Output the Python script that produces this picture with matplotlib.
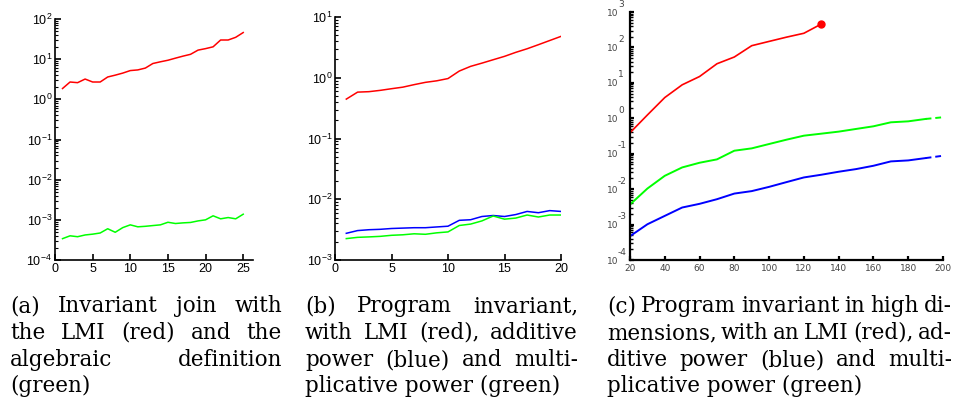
import numpy as np
import matplotlib
matplotlib.use("Agg")
import matplotlib.pyplot as plt
from matplotlib.ticker import FixedLocator, LogLocator, NullFormatter, FuncFormatter

plt.rcParams['mathtext.default'] = 'regular'

# %%
# Data

# (a) invariant join
a_x = np.arange(1, 26)
a_lmi = [1.86, 2.7, 2.6, 3.2, 2.7, 2.7, 3.6, 4.0, 4.5, 5.2, 5.4, 6.0, 7.8, 8.6, 9.4,
         10.6, 11.9, 13.2, 16.8, 18.3, 20.3, 30, 30, 35, 46]
a_alg = [3.4e-4, 4.0e-4, 3.8e-4, 4.2e-4, 4.4e-4, 4.7e-4, 6.0e-4, 4.9e-4, 6.4e-4, 7.5e-4,
         6.7e-4, 6.9e-4, 7.2e-4, 7.5e-4, 8.7e-4, 8.1e-4, 8.4e-4, 8.6e-4, 9.4e-4, 1.0e-3,
         1.26e-3, 1.06e-3, 1.14e-3, 1.06e-3, 1.38e-3]

# (b) program invariant
b_x = np.arange(1, 21)
b_lmi = [0.445, 0.58, 0.59, 0.62, 0.66, 0.70, 0.77, 0.84, 0.89, 0.97,
         1.29, 1.54, 1.74, 1.98, 2.25, 2.62, 3.0, 3.5, 4.1, 4.8]
b_add = [2.75e-3, 3.05e-3, 3.15e-3, 3.2e-3, 3.3e-3, 3.35e-3, 3.4e-3, 3.4e-3, 3.5e-3, 3.6e-3,
         4.5e-3, 4.6e-3, 5.2e-3, 5.4e-3, 5.2e-3, 5.6e-3, 6.3e-3, 6.0e-3, 6.5e-3, 6.3e-3]
b_mul = [2.25e-3, 2.36e-3, 2.4e-3, 2.45e-3, 2.55e-3, 2.6e-3, 2.7e-3, 2.65e-3, 2.8e-3, 2.9e-3,
         3.7e-3, 3.9e-3, 4.4e-3, 5.3e-3, 4.7e-3, 4.9e-3, 5.5e-3, 5.1e-3, 5.5e-3, 5.5e-3]

# (c) high dimensions
c_x = np.arange(20, 201, 10)
c_lmi = [0.39, 1.24, 3.85, 8.8, 15.1, 34.6, 53.7, 112, 148, 195, 251, 457]
c_add = [4.7e-4, 1.02e-3, 1.76e-3, 3.03e-3, 3.85e-3, 5.2e-3, 7.5e-3, 8.8e-3, 0.0116, 0.0158,
         0.0214, 0.0255, 0.031, 0.0368, 0.0457, 0.0607, 0.0647, 0.0753, 0.0877]
c_mul = [3.68e-3, 0.0104, 0.0238, 0.041, 0.0556, 0.0692, 0.1216, 0.1416, 0.188, 0.249,
         0.323, 0.368, 0.42, 0.5, 0.594, 0.77, 0.82, 0.957, 1.07]

captions = [
    ["(a) Invariant join with", "the LMI (red) and the", "algebraic definition", "(green)"],
    ["(b) Program invariant,", "with LMI (red), additive", "power (blue) and multi-",
     "plicative power (green)"],
    ["(c) Program invariant in high di-", "mensions, with an LMI (red), ad-",
     "ditive power (blue) and multi-", "plicative power (green)"],
]

# %%
W, H = 956, 404
fig = plt.figure(figsize=(W / 100, H / 100), dpi=100)


def px_axes(left, right, top, bottom):
    return fig.add_axes([left / W, 1 - bottom / H, (right - left) / W, (bottom - top) / H])


def style_ax(ax, lw=1.0):
    for s in ['top', 'right']:
        ax.spines[s].set_visible(False)
    for s in ['left', 'bottom']:
        ax.spines[s].set_linewidth(lw)
    ax.set_yscale('log')
    ax.yaxis.set_minor_locator(LogLocator(base=10, subs=np.arange(2, 10)))
    ax.yaxis.set_minor_formatter(NullFormatter())
    ax.tick_params(which='major', direction='in', length=4, width=lw)
    ax.tick_params(which='minor', direction='in', length=2, width=0.8)
    ax.tick_params(axis='x', which='minor', length=0)


sci = FuncFormatter(lambda v, p: r'$10^{%d}$' % round(np.log10(v)))

# (a)
ax1 = px_axes(55, 253, 19, 260)
style_ax(ax1, lw=1.2)
ax1.plot(a_x, a_lmi, color=(1, 0, 0), lw=1.1)
ax1.plot(a_x, a_alg, color=(0, 1, 0), lw=1.1)
ax1.set_xlim(0, 26.3)
ax1.set_ylim(1e-4, 1e2)
ax1.set_xticks([0, 5, 10, 15, 20, 25])
ax1.yaxis.set_major_locator(FixedLocator([10.0 ** k for k in range(-4, 3)]))
ax1.yaxis.set_major_formatter(sci)

# (b)
ax2 = px_axes(335, 561, 17, 260)
style_ax(ax2, lw=1.2)
ax2.plot(b_x, b_lmi, color=(1, 0, 0), lw=1.1)
ax2.plot(b_x, b_add, color=(0, 0, 1), lw=1.1)
ax2.plot(b_x, b_mul, color=(0, 1, 0), lw=1.1)
ax2.set_xlim(0, 20)
ax2.set_ylim(1e-3, 1e1)
ax2.set_xticks([0, 5, 10, 15, 20])
ax2.yaxis.set_major_locator(FixedLocator([10.0 ** k for k in range(-3, 2)]))
ax2.yaxis.set_major_formatter(sci)

for ax in (ax1, ax2):
    ax.tick_params(labelsize=9, pad=2)
    for lab in ax.get_xticklabels() + ax.get_yticklabels():
        lab.set_fontfamily('Liberation Sans')

# (c)
ax3 = px_axes(630, 943, 12, 260)
style_ax(ax3, lw=1.6)
n_lmi = len(c_lmi)
ax3.plot(c_x[:n_lmi], c_lmi, color=(1, 0, 0), lw=1.2)
ax3.plot(c_x[n_lmi - 1], c_lmi[-1], 'o', color=(1, 0, 0), ms=5)
for ys, col in ((c_mul, (0, 1, 0)), (c_add, (0, 0, 1))):
    ax3.plot(c_x[:-1], ys[:-1], color=col, lw=1.4)
    ax3.plot(c_x[-2:], ys[-2:], color=col, lw=1.4, ls=(0, (3, 2)))
ax3.set_xlim(20, 200)
ax3.set_ylim(1e-4, 1e3)
ax3.set_xticks(np.arange(20, 201, 20))
ax3.yaxis.set_major_locator(FixedLocator([10.0 ** k for k in range(-4, 4)]))
ax3.set_yticklabels([])
ax3.tick_params(axis='x', labelsize=6.5, labelcolor='#444', pad=3)
ax3.tick_params(which='major', length=3)
ax3.tick_params(which='minor', length=2, width=1.0)
for k in range(-4, 4):
    ax3.annotate('10', xy=(0, 10.0 ** k), xycoords=ax3.get_yaxis_transform(),
                 xytext=(-12, -1), textcoords='offset pixels', ha='right', va='center',
                 fontsize=6.5, color='#444')
    ax3.annotate(str(k), xy=(0, 10.0 ** k), xycoords=ax3.get_yaxis_transform(),
                 xytext=(-12, 8), textcoords='offset pixels', ha='left', va='center',
                 fontsize=6.5, color='#444')

# %%
# Justified captions below the panels
renderer = fig.canvas.get_renderer()
cap_x = [(10, 282), (305, 578), (607, 952)]
baselines = [312, 339, 366, 392]
cap_font = dict(family='DejaVu Serif', size=15.5, va='baseline', ha='left')

for (x0, x1), lines in zip(cap_x, captions):
    for i, line in enumerate(lines):
        y = 1 - baselines[i] / H
        words = line.split()
        if i == len(lines) - 1:
            fig.text(x0 / W, y, line, **cap_font)
            continue
        texts = [fig.text(0, y, w, **cap_font) for w in words]
        widths = [t.get_window_extent(renderer).width for t in texts]
        gap = (x1 - x0 - sum(widths)) / (len(words) - 1)
        xp = x0
        for t, w in zip(texts, widths):
            t.set_x(xp / W)
            xp += w + gap

fig.savefig('out.png', dpi=100)
